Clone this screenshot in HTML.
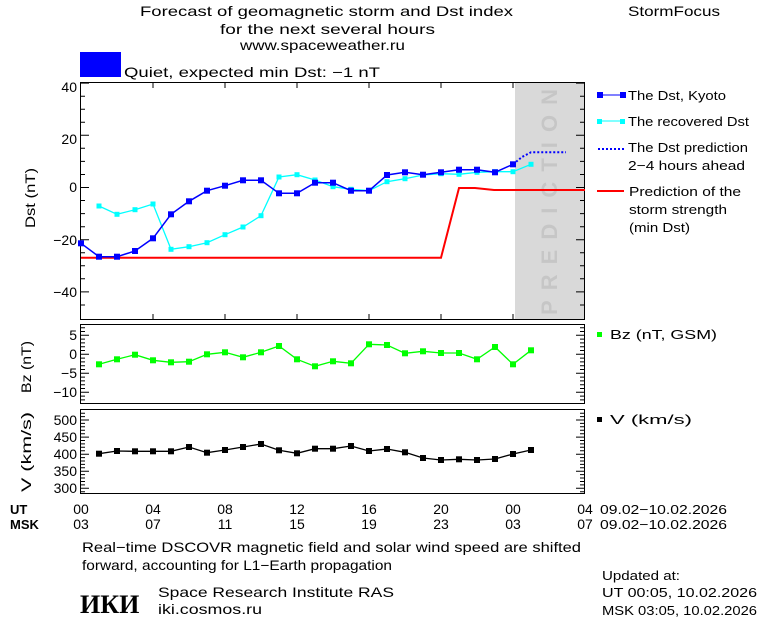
<!DOCTYPE html>
<html><head><meta charset="utf-8"><style>
body{margin:0;background:#fff}
svg{display:block;font-family:"Liberation Sans","DejaVu Sans",sans-serif}
</style></head><body>
<svg width="760" height="620" viewBox="0 0 760 620" xmlns="http://www.w3.org/2000/svg">
<rect width="760" height="620" fill="#fff"/>
<g font-size="14" fill="#000">
<text x="140" y="16" textLength="373" lengthAdjust="spacingAndGlyphs">Forecast of geomagnetic storm and Dst index</text>
<text x="220" y="34" textLength="215" lengthAdjust="spacingAndGlyphs">for the next several hours</text>
<text x="240" y="50" textLength="165" lengthAdjust="spacingAndGlyphs">www.spaceweather.ru</text>
<text x="628" y="16" textLength="92" lengthAdjust="spacingAndGlyphs">StormFocus</text>
</g>
<rect x="80" y="52" width="41" height="25" fill="#0000ff"/>
<text x="124" y="77" font-size="14" textLength="256" lengthAdjust="spacingAndGlyphs">Quiet, expected min Dst: −1 nT</text>

<!-- main panel -->
<rect x="515" y="82" width="70" height="237" fill="#d9d9d9"/>
<text transform="translate(557,202) rotate(-90)" font-size="22" font-weight="bold" fill="#c6c6c6" text-anchor="middle" textLength="226" lengthAdjust="spacing">PREDICTION</text>
<rect x="80.5" y="82.5" width="504" height="237" fill="none" stroke="#000"/>
<g stroke="#000">
<path d="M153 83v5M225 83v5M297 83v5M369 83v5M441 83v5M513 83v5M153 319v-5M225 319v-5M297 319v-5M369 319v-5M441 319v-5M513 319v-5"/>
<path d="M81 83.1h8M81 96.2h4M81 109.2h4M81 122.2h4M81 135.3h8M81 148.3h4M81 161.4h4M81 174.5h4M81 187.5h8M81 200.5h4M81 213.6h4M81 226.7h4M81 239.7h8M81 252.8h4M81 265.8h4M81 278.8h4M81 291.9h8M81 305h4"/>
<path d="M584 83.1h-8M584 96.2h-4M584 109.2h-4M584 122.2h-4M584 135.3h-8M584 148.3h-4M584 161.4h-4M584 174.5h-4M584 187.5h-8M584 200.5h-4M584 213.6h-4M584 226.7h-4M584 239.7h-8M584 252.8h-4M584 265.8h-4M584 278.8h-4M584 291.9h-8M584 305h-4"/>
</g>
<g font-size="14" text-anchor="end">
<text x="77" y="92">40</text><text x="77" y="144">20</text><text x="77" y="192">0</text><text x="77" y="245">−20</text><text x="77" y="297">−40</text>
</g>
<text transform="translate(35,198) rotate(-90)" font-size="14" text-anchor="middle" textLength="60" lengthAdjust="spacingAndGlyphs">Dst (nT)</text>

<polyline fill="none" stroke="#ff0000" stroke-width="2" points="81,257.7 441,257.7 459,188 475,188 494,190 585,190"/>
<polyline fill="none" stroke="#00ffff" stroke-width="1.3" points="99,206 117,214.3 135,209.7 153,204 171,249.3 189,246.7 207,242.7 225,234.7 243,227 261,215.7 279,177 297,174.7 315,180 333,186.7 351,189.3 369,190.7 387,181.7 405,178.7 423,175 441,173.7 459,174.3 477,172.3 495,171.7 513,171.7 531,164.3"/>
<g fill="#00ffff">
<rect x="96.5" y="203.5" width="5" height="5"/><rect x="114.5" y="211.8" width="5" height="5"/><rect x="132.5" y="207.2" width="5" height="5"/><rect x="150.5" y="201.5" width="5" height="5"/><rect x="168.5" y="246.8" width="5" height="5"/><rect x="186.5" y="244.2" width="5" height="5"/><rect x="204.5" y="240.2" width="5" height="5"/><rect x="222.5" y="232.2" width="5" height="5"/><rect x="240.5" y="224.5" width="5" height="5"/><rect x="258.5" y="213.2" width="5" height="5"/><rect x="276.5" y="174.5" width="5" height="5"/><rect x="294.5" y="172.2" width="5" height="5"/><rect x="312.5" y="177.5" width="5" height="5"/><rect x="330.5" y="184.2" width="5" height="5"/><rect x="348.5" y="186.8" width="5" height="5"/><rect x="366.5" y="188.2" width="5" height="5"/><rect x="384.5" y="179.2" width="5" height="5"/><rect x="402.5" y="176.2" width="5" height="5"/><rect x="420.5" y="172.5" width="5" height="5"/><rect x="438.5" y="171.2" width="5" height="5"/><rect x="456.5" y="171.8" width="5" height="5"/><rect x="474.5" y="169.8" width="5" height="5"/><rect x="492.5" y="169.2" width="5" height="5"/><rect x="510.5" y="169.2" width="5" height="5"/><rect x="528.5" y="161.8" width="5" height="5"/>
</g>
<polyline fill="none" stroke="#0000ff" stroke-width="2" stroke-dasharray="2,2" points="513,164.3 522,157 531,152.3 566,152.3"/>
<polyline fill="none" stroke="#0000ff" stroke-width="1.5" points="81,243.3 99,256.7 117,256.7 135,251 153,238.3 171,214.3 189,201.3 207,190.7 225,185.7 243,180.3 261,180.3 279,193.3 297,193.3 315,182.7 333,182.7 351,190.7 369,190.7 387,175 405,172.3 423,174.7 441,172.3 459,169.7 477,169.7 495,172.3 513,164.3"/>
<g fill="#0000ff">
<rect x="78" y="240.3" width="6" height="6"/><rect x="96" y="253.7" width="6" height="6"/><rect x="114" y="253.7" width="6" height="6"/><rect x="132" y="248" width="6" height="6"/><rect x="150" y="235.3" width="6" height="6"/><rect x="168" y="211.3" width="6" height="6"/><rect x="186" y="198.3" width="6" height="6"/><rect x="204" y="187.7" width="6" height="6"/><rect x="222" y="182.7" width="6" height="6"/><rect x="240" y="177.3" width="6" height="6"/><rect x="258" y="177.3" width="6" height="6"/><rect x="276" y="190.3" width="6" height="6"/><rect x="294" y="190.3" width="6" height="6"/><rect x="312" y="179.7" width="6" height="6"/><rect x="330" y="179.7" width="6" height="6"/><rect x="348" y="187.7" width="6" height="6"/><rect x="366" y="187.7" width="6" height="6"/><rect x="384" y="172" width="6" height="6"/><rect x="402" y="169.3" width="6" height="6"/><rect x="420" y="171.7" width="6" height="6"/><rect x="438" y="169.3" width="6" height="6"/><rect x="456" y="166.7" width="6" height="6"/><rect x="474" y="166.7" width="6" height="6"/><rect x="492" y="169.3" width="6" height="6"/><rect x="510" y="161.3" width="6" height="6"/>
</g>

<!-- legend -->
<g font-size="13">
<line x1="598" y1="95" x2="624" y2="95" stroke="#0000ff"/><rect x="597" y="92" width="6" height="6" fill="#0000ff"/><rect x="620" y="92" width="6" height="6" fill="#0000ff"/>
<text x="628" y="100" textLength="98" lengthAdjust="spacingAndGlyphs">The Dst, Kyoto</text>
<line x1="598" y1="121" x2="624" y2="121" stroke="#00ffff"/><rect x="597" y="119" width="5" height="5" fill="#00ffff"/><rect x="620" y="119" width="5" height="5" fill="#00ffff"/>
<text x="628" y="126" textLength="121" lengthAdjust="spacingAndGlyphs">The recovered Dst</text>
<line x1="598" y1="149" x2="624" y2="149" stroke="#0000ff" stroke-width="2" stroke-dasharray="2,2"/>
<text x="628" y="152" textLength="120" lengthAdjust="spacingAndGlyphs">The Dst prediction</text>
<text x="628" y="170" textLength="117" lengthAdjust="spacingAndGlyphs">2−4 hours ahead</text>
<line x1="597" y1="191" x2="624" y2="191" stroke="#ff0000" stroke-width="2"/>
<text x="629" y="196" textLength="112" lengthAdjust="spacingAndGlyphs">Prediction of the</text>
<text x="629" y="214" textLength="98" lengthAdjust="spacingAndGlyphs">storm strength</text>
<text x="629" y="232" textLength="61" lengthAdjust="spacingAndGlyphs">(min Dst)</text>
<rect x="597" y="332" width="5" height="5" fill="#00ff00"/>
<text x="610" y="339" textLength="107" lengthAdjust="spacingAndGlyphs">Bz (nT, GSM)</text>
<rect x="597" y="417" width="5" height="5" fill="#000"/>
<text x="610" y="424" textLength="82" lengthAdjust="spacingAndGlyphs">V (km/s)</text>
</g>

<!-- Bz panel -->
<rect x="80.5" y="324.5" width="504" height="79" fill="none" stroke="#000"/>
<g stroke="#000">
<path d="M81 335.3h8M81 354.3h8M81 373.3h8M81 392.3h8M584 335.3h-8M584 354.3h-8M584 373.3h-8M584 392.3h-8"/>
<path d="M81 327.7h4M81 331.5h4M81 339.1h4M81 342.9h4M81 346.7h4M81 350.5h4M81 358.1h4M81 361.9h4M81 365.7h4M81 369.5h4M81 377.1h4M81 380.9h4M81 384.7h4M81 388.5h4M81 396.1h4M81 399.9h4"/>
<path d="M584 327.7h-4M584 331.5h-4M584 339.1h-4M584 342.9h-4M584 346.7h-4M584 350.5h-4M584 358.1h-4M584 361.9h-4M584 365.7h-4M584 369.5h-4M584 377.1h-4M584 380.9h-4M584 384.7h-4M584 388.5h-4M584 396.1h-4M584 399.9h-4"/>
</g>
<g font-size="14" text-anchor="end">
<text x="77" y="340">5</text><text x="77" y="359">0</text><text x="77" y="378">−5</text><text x="77" y="397">−10</text>
</g>
<text transform="translate(31,367) rotate(-90)" font-size="14" text-anchor="middle" textLength="52" lengthAdjust="spacingAndGlyphs">Bz (nT)</text>
<polyline fill="none" stroke="#00ff00" stroke-width="1.3" points="99,364.3 117,359.3 135,354.7 153,360.3 171,362.3 189,361.7 207,354.3 225,352.3 243,357.3 261,352.3 279,346 297,359.3 315,366.3 333,361.3 351,363.3 369,344.3 387,345 405,353.3 423,351.3 441,353 459,353 477,359.3 495,347 513,364.3 531,350.3"/>
<g fill="#00ff00">
<rect x="96" y="361.3" width="6" height="6"/><rect x="114" y="356.3" width="6" height="6"/><rect x="132" y="351.7" width="6" height="6"/><rect x="150" y="357.3" width="6" height="6"/><rect x="168" y="359.3" width="6" height="6"/><rect x="186" y="358.7" width="6" height="6"/><rect x="204" y="351.3" width="6" height="6"/><rect x="222" y="349.3" width="6" height="6"/><rect x="240" y="354.3" width="6" height="6"/><rect x="258" y="349.3" width="6" height="6"/><rect x="276" y="343" width="6" height="6"/><rect x="294" y="356.3" width="6" height="6"/><rect x="312" y="363.3" width="6" height="6"/><rect x="330" y="358.3" width="6" height="6"/><rect x="348" y="360.3" width="6" height="6"/><rect x="366" y="341.3" width="6" height="6"/><rect x="384" y="342" width="6" height="6"/><rect x="402" y="350.3" width="6" height="6"/><rect x="420" y="348.3" width="6" height="6"/><rect x="438" y="350" width="6" height="6"/><rect x="456" y="350" width="6" height="6"/><rect x="474" y="356.3" width="6" height="6"/><rect x="492" y="344" width="6" height="6"/><rect x="510" y="361.3" width="6" height="6"/><rect x="528" y="347.3" width="6" height="6"/>
</g>

<!-- V panel -->
<rect x="80.5" y="409.5" width="504" height="84" fill="none" stroke="#000"/>
<g stroke="#000">
<path d="M81 420h8M81 437.1h8M81 454.2h8M81 471.2h8M81 488.3h8M584 420h-8M584 437.1h-8M584 454.2h-8M584 471.2h-8M584 488.3h-8"/>
<path d="M81 413.2h4M81 416.6h4M81 423.4h4M81 426.8h4M81 430.2h4M81 433.7h4M81 440.5h4M81 443.9h4M81 447.3h4M81 450.7h4M81 457.6h4M81 461h4M81 464.4h4M81 467.8h4M81 474.6h4M81 478h4M81 481.5h4M81 484.9h4M81 491.7h4"/>
<path d="M584 413.2h-4M584 416.6h-4M584 423.4h-4M584 426.8h-4M584 430.2h-4M584 433.7h-4M584 440.5h-4M584 443.9h-4M584 447.3h-4M584 450.7h-4M584 457.6h-4M584 461h-4M584 464.4h-4M584 467.8h-4M584 474.6h-4M584 478h-4M584 481.5h-4M584 484.9h-4M584 491.7h-4"/>
</g>
<g font-size="14" text-anchor="end">
<text x="77" y="425">500</text><text x="77" y="442">450</text><text x="77" y="459">400</text><text x="77" y="476">350</text><text x="77" y="493">300</text>
</g>
<text transform="translate(31,452) rotate(-90)" font-size="14" text-anchor="middle" textLength="80" lengthAdjust="spacingAndGlyphs">V (km/s)</text>
<polyline fill="none" stroke="#000" stroke-width="1.3" points="99,453.7 117,451 135,451.3 153,451.3 171,451.3 189,447 207,452.7 225,450 243,447 261,444 279,450.3 297,453.3 315,448.7 333,448.7 351,446 369,451 387,449 405,452.3 423,458 441,460 459,459.3 477,460 495,459 513,454 531,450"/>
<g fill="#000">
<rect x="96" y="450.7" width="6" height="6"/><rect x="114" y="448" width="6" height="6"/><rect x="132" y="448.3" width="6" height="6"/><rect x="150" y="448.3" width="6" height="6"/><rect x="168" y="448.3" width="6" height="6"/><rect x="186" y="444" width="6" height="6"/><rect x="204" y="449.7" width="6" height="6"/><rect x="222" y="447" width="6" height="6"/><rect x="240" y="444" width="6" height="6"/><rect x="258" y="441" width="6" height="6"/><rect x="276" y="447.3" width="6" height="6"/><rect x="294" y="450.3" width="6" height="6"/><rect x="312" y="445.7" width="6" height="6"/><rect x="330" y="445.7" width="6" height="6"/><rect x="348" y="443" width="6" height="6"/><rect x="366" y="448" width="6" height="6"/><rect x="384" y="446" width="6" height="6"/><rect x="402" y="449.3" width="6" height="6"/><rect x="420" y="455" width="6" height="6"/><rect x="438" y="457" width="6" height="6"/><rect x="456" y="456.3" width="6" height="6"/><rect x="474" y="457" width="6" height="6"/><rect x="492" y="456" width="6" height="6"/><rect x="510" y="451" width="6" height="6"/><rect x="528" y="447" width="6" height="6"/>
</g>

<!-- time axis -->
<g font-size="14">
<text x="10" y="514" font-weight="bold" font-size="13">UT</text>
<text x="10" y="529" font-weight="bold" font-size="13">MSK</text>
<g text-anchor="middle">
<text x="81" y="514">00</text><text x="153" y="514">04</text><text x="225" y="514">08</text><text x="297" y="514">12</text><text x="369" y="514">16</text><text x="441" y="514">20</text><text x="513" y="514">00</text><text x="585" y="514">04</text>
<text x="81" y="529">03</text><text x="153" y="529">07</text><text x="225" y="529">11</text><text x="297" y="529">15</text><text x="369" y="529">19</text><text x="441" y="529">23</text><text x="513" y="529">03</text><text x="585" y="529">07</text>
</g>
<text x="600" y="514" font-size="13" textLength="127" lengthAdjust="spacingAndGlyphs">09.02−10.02.2026</text>
<text x="600" y="529" font-size="13" textLength="127" lengthAdjust="spacingAndGlyphs">09.02−10.02.2026</text>
<text x="82" y="552" textLength="499" lengthAdjust="spacingAndGlyphs">Real−time DSCOVR magnetic field and solar wind speed are shifted</text>
<text x="82" y="570" textLength="310" lengthAdjust="spacingAndGlyphs">forward, accounting for L1−Earth propagation</text>
<text x="80" y="613" font-size="26" font-weight="bold" font-family="Liberation Serif,serif">ИКИ</text>
<text x="158" y="597" textLength="236" lengthAdjust="spacingAndGlyphs">Space Research Institute RAS</text>
<text x="158" y="614" textLength="104" lengthAdjust="spacingAndGlyphs">iki.cosmos.ru</text>
<text x="602" y="580" font-size="13" textLength="78" lengthAdjust="spacingAndGlyphs">Updated at:</text>
<text x="602" y="597" font-size="13" textLength="155" lengthAdjust="spacingAndGlyphs">UT   00:05, 10.02.2026</text>
<text x="602" y="615" font-size="13" textLength="155" lengthAdjust="spacingAndGlyphs">MSK 03:05, 10.02.2026</text>
</g>
</svg>
</body></html>
